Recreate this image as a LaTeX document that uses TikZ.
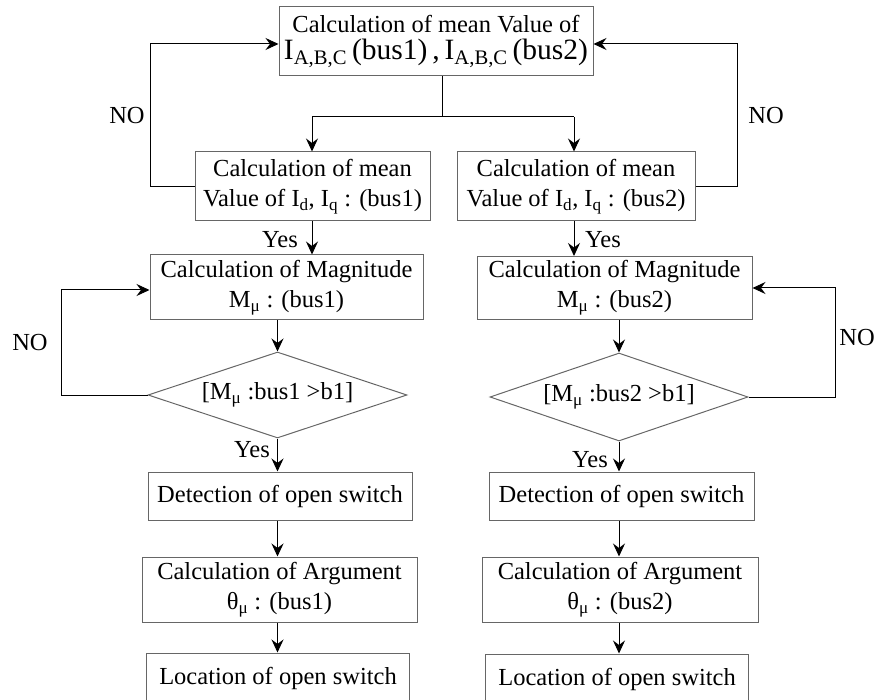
\documentclass[tikz,border=0pt]{standalone}
\usepackage{fontspec}
\setmainfont{Liberation Serif}
\usetikzlibrary{arrows.meta,shapes.geometric}
\begin{document}
\begin{tikzpicture}[x=1pt,y=-1pt,
  txt/.style={font=\fontsize{24.5}{30}\selectfont},
  box/.style={txt, draw=black!60, line width=1pt, rectangle, align=center, inner sep=0pt},
  dia/.style={txt, draw=black!60, line width=1pt, diamond, aspect=3, inner sep=0pt},
  arr/.style={line width=1pt, -{Stealth[length=13pt,width=12pt,inset=4.5pt]}},
  ln/.style={line width=1pt},
  lbl/.style={txt, inner sep=0pt}]
\useasboundingbox (0,0) rectangle (875,700);
% boxes
\node[box, minimum width=314pt, minimum height=69pt] (top) at (436,41.5)
  {Calculation of mean Value of\\[-3pt]{\fontsize{29.5}{32}\selectfont I\textsubscript{A,B,C}\,(bus1)\,,\,I\textsubscript{A,B,C}\,(bus2)}};
\node[box, minimum width=235pt, minimum height=69pt] (id1) at (312.5,186.5)
  {Calculation of mean\\Value of I\textsubscript{d}, I\textsubscript{q} : (bus1)};
\node[box, minimum width=238pt, minimum height=69pt] (id2) at (576,186.5)
  {Calculation of mean\\Value of I\textsubscript{d}, I\textsubscript{q} : (bus2)};
\node[box, minimum width=273pt, minimum height=65pt] (mag1) at (286.5,287.5)
  {Calculation of Magnitude\\M\textsubscript{μ} : (bus1)};
\node[box, minimum width=275pt, minimum height=63pt] (mag2) at (614.5,288)
  {Calculation of Magnitude\\M\textsubscript{μ} : (bus2)};
\node[dia, minimum width=259pt, minimum height=86pt] (dia1) at (277.5,395)
  {[M\textsubscript{μ} :bus1 >b1]};
\node[dia, minimum width=258pt, minimum height=88pt] (dia2) at (619,397)
  {[M\textsubscript{μ} :bus2 >b1]};
\node[box, minimum width=264pt, minimum height=48pt] (det1) at (280,496)
  {Detection of open switch};
\node[box, minimum width=265pt, minimum height=48pt] (det2) at (621.5,496)
  {Detection of open switch};
\node[box, minimum width=275pt, minimum height=65pt] (arg1) at (279.5,589.5)
  {Calculation of Argument\\θ\textsubscript{μ} : (bus1)};
\node[box, minimum width=276pt, minimum height=65pt] (arg2) at (620,589.5)
  {Calculation of Argument\\θ\textsubscript{μ} : (bus2)};
\node[box, minimum width=263pt, minimum height=50pt] (loc1) at (278,678)
  {Location of open switch};
\node[box, minimum width=263pt, minimum height=50pt] (loc2) at (617,679)
  {Location of open switch};
% labels
\node[lbl] (no1) at (127,116) {NO};
\node[lbl] (no2) at (766,116) {NO};
\node[lbl] (no3) at (30,343) {NO};
\node[lbl] (no4) at (857,338) {NO};
\node[lbl] (yes1) at (280,240) {Yes};
\node[lbl] (yes2) at (603,240) {Yes};
\node[lbl] (yes3) at (252,450) {Yes};
\node[lbl] (yes4) at (590,460) {Yes};
% coordinates
\coordinate (sp) at (442,117);
\coordinate (sl) at (312,117);
\coordinate (sr) at (574,117);
\coordinate (l1) at (150,44);
\coordinate (r1) at (737,44);
\coordinate (l2) at (61,290);
\coordinate (r2) at (835,288);
% connectors
\draw[ln] (top.south -| sp) -- (sp);
\draw[ln] (sl) -- (sr);
\draw[arr] (sl) -- (sl |- id1.north);
\draw[arr] (sr) -- (sr |- id2.north);
\draw[arr] (id1.west) -| (l1) -- (l1 -| top.west);
\draw[arr] (id2.east) -| (r1) -- (r1 -| top.east);
\draw[arr] (id1.south -| sl) -- (sl |- mag1.north);
\draw[arr] (id2.south -| sr) -- (sr |- mag2.north);
\draw[arr] (dia1.north |- mag1.south) -- (dia1.north);
\draw[arr] (dia2.north |- mag2.south) -- (dia2.north);
\draw[arr] (dia1.west) -| (l2) -- (l2 -| mag1.west);
\draw[arr] (dia2.east) -| (r2) -- (r2 -| mag2.east);
\draw[arr] (dia1.south) -- (dia1.south |- det1.north);
\draw[arr] (dia2.south) -- (dia2.south |- det2.north);
\draw[arr] (det1.south -| dia1.south) -- (dia1.south |- arg1.north);
\draw[arr] (det2.south -| dia2.south) -- (dia2.south |- arg2.north);
\draw[arr] (arg1.south -| dia1.south) -- (dia1.south |- loc1.north);
\draw[arr] (arg2.south -| dia2.south) -- (dia2.south |- loc2.north);
\end{tikzpicture}
\end{document}
